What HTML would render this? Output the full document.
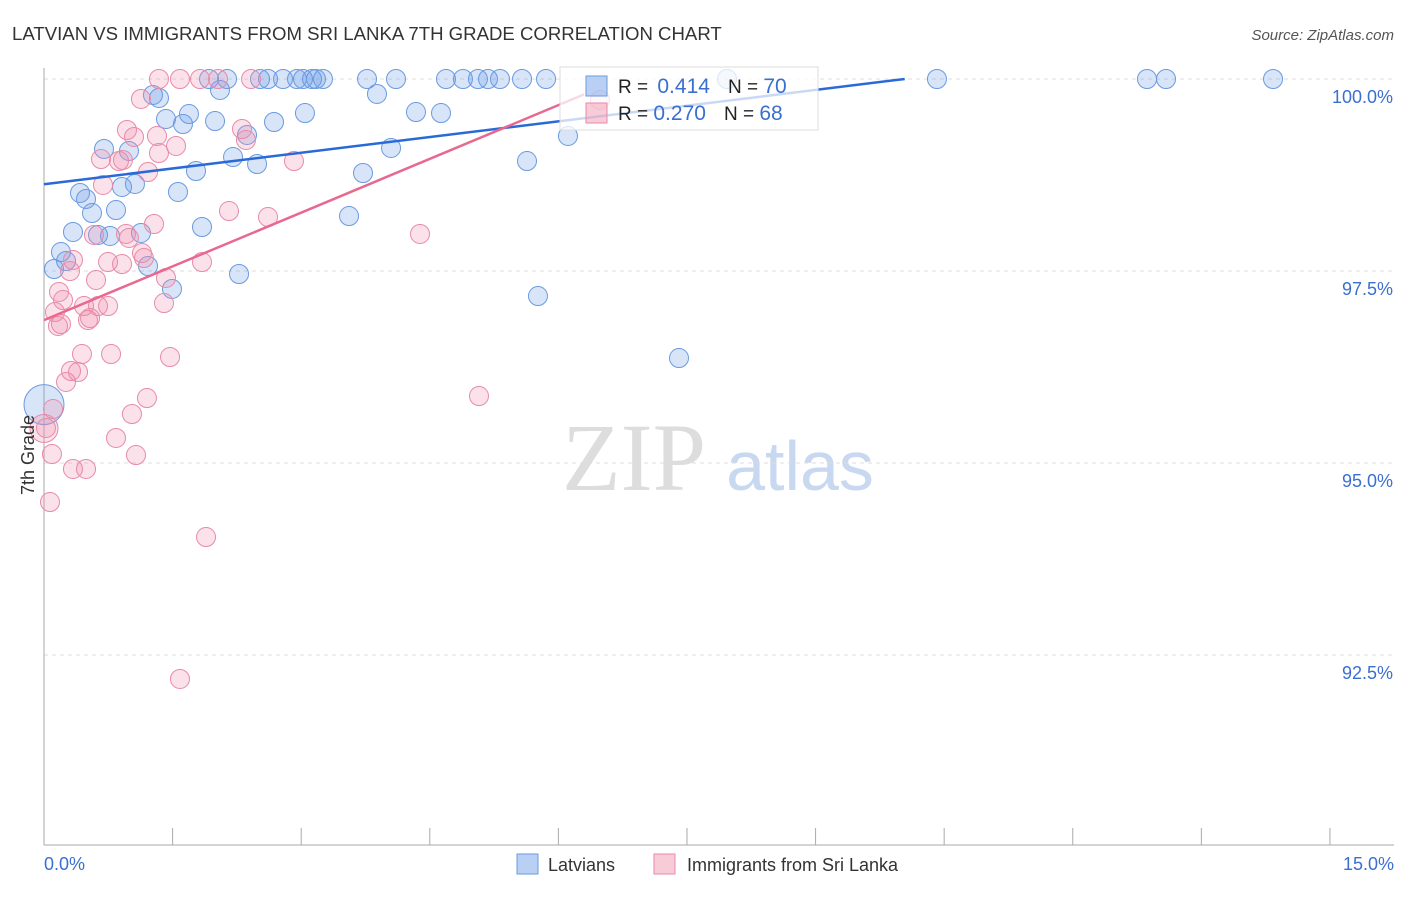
<!DOCTYPE html>
<html><head><meta charset="utf-8"><style>
body{margin:0;background:#fff;font-family:"Liberation Sans",sans-serif;}
</style></head><body>
<svg id="chart" width="1406" height="892" xmlns="http://www.w3.org/2000/svg" style="font-family:'Liberation Sans',sans-serif">
<text x="12" y="40" font-size="18.6" fill="#333">LATVIAN VS IMMIGRANTS FROM SRI LANKA 7TH GRADE CORRELATION CHART</text>
<text x="1394" y="40" font-size="15" fill="#555" text-anchor="end" font-style="italic">Source: ZipAtlas.com</text>
<text x="634" y="490" font-size="96" fill="#ddd" font-family="Liberation Serif" text-anchor="middle">ZIP</text>
<text x="800" y="490" font-size="70" fill="#c8d8f0" text-anchor="middle">atlas</text>
<g id="grid"></g><g id="axes"></g><g id="marks"></g><g id="trend"></g>
<g>
<rect x="560" y="67" width="258" height="63" fill="rgba(255,255,255,0.75)" stroke="#ddd"/>
<rect x="586" y="76" width="21" height="20" fill="rgba(100,150,230,0.45)" stroke="#6a9ae0"/>
<rect x="586" y="103" width="21" height="20" fill="rgba(240,140,170,0.45)" stroke="#e88aa8"/>
<text x="618" y="93" font-size="19" fill="#222">R = <tspan fill="#3a6fd0" dx="4" font-size="21">0.414</tspan><tspan dx="18">N = </tspan><tspan fill="#3a6fd0" font-size="21">70</tspan></text>
<text x="618" y="120" font-size="19" fill="#222">R = <tspan fill="#3a6fd0" dx="0" font-size="21">0.270</tspan><tspan dx="18">N = </tspan><tspan fill="#3a6fd0" font-size="21">68</tspan></text>
</g>
<text transform="translate(34,455) rotate(-90)" font-size="18" fill="#333" text-anchor="middle">7th Grade</text>
<text x="44" y="870" font-size="18" fill="#3a6fd0">0.0%</text>
<text x="1394" y="870" font-size="18" fill="#3a6fd0" text-anchor="end">15.0%</text>
<g>
<rect x="517" y="854" width="21" height="20" fill="rgba(100,150,230,0.45)" stroke="#6a9ae0"/>
<text x="548" y="871" font-size="18" fill="#333">Latvians</text>
<rect x="654" y="854" width="21" height="20" fill="rgba(240,140,170,0.45)" stroke="#e88aa8"/>
<text x="687" y="871" font-size="18" fill="#333">Immigrants from Sri Lanka</text>
</g>
</svg>
<script>
const yTicks=[100,97.5,95,92.5];
const yTickLabels=["100.0%","97.5%","95.0%","92.5%"];
const xTicks=[0,1.5,3,4.5,6,7.5,9,10.5,12,13.5,15];
const bluePx=[[153,95],[159,98],[166,119],[183,124],[189,114],[215,121],[220,90],[209,79],[227,79],[260,79],[268,79],[283,79],[297,79],[303,79],[312,79],[316,79],[323,79],[367,79],[396,79],[446,79],[463,79],[478,79],[488,79],[500,79],[522,79],[546,79],[727,79],[937,79],[1147,79],[1166,79],[1273,79],[377,94],[305,113],[274,122],[416,112],[441,113],[247,135],[233,157],[257,164],[104,149],[129,151],[196,171],[363,173],[391,148],[527,161],[568,136],[135,184],[122,187],[80,193],[86,199],[92,213],[116,210],[178,192],[202,227],[349,216],[73,232],[98,235],[110,236],[141,233],[61,252],[66,261],[54,269],[148,266],[172,289],[239,274],[538,296],[679,358]];
const pinkPx=[[159,79],[180,79],[200,79],[218,79],[251,79],[141,99],[127,130],[157,136],[134,137],[176,146],[159,153],[101,159],[123,160],[119,161],[148,172],[242,129],[246,140],[294,161],[103,185],[229,211],[268,217],[420,234],[154,224],[126,234],[129,238],[94,235],[142,253],[144,258],[73,260],[70,271],[108,262],[122,264],[166,278],[202,262],[96,280],[59,292],[63,300],[84,306],[98,306],[108,306],[164,303],[55,312],[61,324],[58,326],[90,318],[88,320],[82,354],[111,354],[170,357],[71,371],[78,372],[66,382],[147,398],[132,414],[479,396],[53,409],[46,428],[116,438],[52,454],[136,455],[73,469],[86,469],[50,502],[206,537],[180,679],[600,100]];
// convert reading positions into data values (x %, y %)
const toData=p=>[+((p[0]-44)/85.73).toFixed(3),+(100-(p[1]-79)/76.8).toFixed(3)];
const latviansX=bluePx.map(p=>toData(p)[0]), latviansY=bluePx.map(p=>toData(p)[1]);
const sriLankaX=pinkPx.map(p=>toData(p)[0]), sriLankaY=pinkPx.map(p=>toData(p)[1]);
const bigLatvian=[0,95.76], bigSriLanka=[0,95.45];
const blueTrend=[[0,98.63],[10.04,100]];
const pinkTrend=[[0,96.86],[6.3,99.8]];
const X=v=>44+v*85.73, Y=v=>79+(100-v)*76.8;
const NS="http://www.w3.org/2000/svg";
function mk(tag,attrs,parent){const e=document.createElementNS(NS,tag);for(const k in attrs)e.setAttribute(k,attrs[k]);document.getElementById(parent).appendChild(e);return e;}
yTicks.forEach((t,i)=>{
 const g=mk('line',{x1:44,x2:1394,y1:Y(t),y2:Y(t),stroke:'#ddd','stroke-dasharray':'4,4'},'grid');
 
 
 const l=mk('text',{x:1393,y:Y(t)+24,'font-size':18,fill:'#3a6fd0','text-anchor':'end'},'grid');
 l.textContent=yTickLabels[i];
 
 
});
const ax=mk('line',{x1:44,x2:44,y1:68,y2:845,stroke:'#aaa'},'axes');


const bx=mk('line',{x1:44,x2:1394,y1:845,y2:845,stroke:'#aaa'},'axes');


xTicks.forEach(t=>{const k=mk('line',{x1:X(t),x2:X(t),y1:828,y2:845,stroke:'#aaa'},'axes');
 
 });
function dot(x,y,r,c,name){const e=mk('circle',{cx:X(x),cy:Y(y),r:r,fill:c[0],stroke:c[1],'stroke-width':1},'marks');
 
 }
const BC=['rgba(100,150,230,0.25)','#6a9ae0'], PC=['rgba(240,140,170,0.25)','#e88aa8'];
dot(bigLatvian[0],bigLatvian[1],20,BC,'latvian-point');
dot(bigSriLanka[0],bigSriLanka[1],14,PC,'sri-lanka-point');
latviansX.forEach((x,i)=>dot(x,latviansY[i],9.5,BC,'latvian-point'));
sriLankaX.forEach((x,i)=>dot(x,sriLankaY[i],9.5,PC,'sri-lanka-point'));
const bt=mk('line',{x1:X(blueTrend[0][0]),y1:Y(blueTrend[0][1]),x2:X(blueTrend[1][0]),y2:Y(blueTrend[1][1]),stroke:'#2a6ad8','stroke-width':2.5},'trend');


const pt=mk('line',{x1:X(pinkTrend[0][0]),y1:Y(pinkTrend[0][1]),x2:X(pinkTrend[1][0]),y2:Y(pinkTrend[1][1]),stroke:'#e8688f','stroke-width':2.5},'trend');


</script>
</body></html>
